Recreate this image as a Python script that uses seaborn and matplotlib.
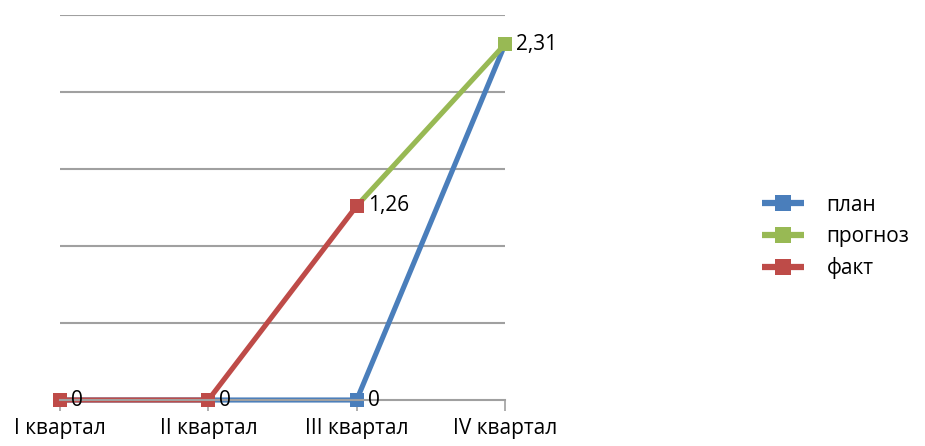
import numpy as np
import matplotlib
matplotlib.use('Agg')
import matplotlib.pyplot as plt
import seaborn as sns

# data
quarters = ['I квартал', 'II квартал', 'III квартал', 'IV квартал']
plan = [0, 0, 0, 2.31]
forecast = [np.nan, np.nan, 1.26, 2.31]
fact = [0, 0, 1.26, np.nan]

# data labels shown next to the points (series, index, text)
point_labels = [
    ('fact', 0, '0'),
    ('fact', 1, '0'),
    ('plan', 2, '0'),
    ('fact', 2, '1,26'),
    ('forecast', 3, '2,31'),
]

sns.set_style('white')
plt.rcParams['font.family'] = ['Open Sans', 'DejaVu Sans']
plt.rcParams['text.color'] = 'black'

fig = plt.figure(figsize=(9.25, 4.46), dpi=100)
ax = fig.add_axes([60 / 925, 1 - 400 / 446, 445 / 925, 385 / 446])

x = np.arange(len(quarters))
series = {
    'plan': (plan, 'план', '#4a7ebb'),
    'forecast': (forecast, 'прогноз', '#98b954'),
    'fact': (fact, 'факт', '#be4b48'),
}

for key, (vals, name, col) in series.items():
    sns.lineplot(x=x, y=vals, ax=ax, color=col, linewidth=3.7, marker='s',
                 markersize=9.5, markeredgewidth=0, label=name, clip_on=False,
                 solid_capstyle='butt')

for key, i, txt in point_labels:
    ax.annotate(txt, (x[i], series[key][0][i]), xytext=(8, 0),
                textcoords='offset points', ha='left', va='center',
                fontsize=15, color='black')

ax.set_xlim(0, 3)
ax.set_ylim(0, 2.5)
ax.set_yticks(np.arange(0.5, 2.51, 0.5))
ax.set_yticklabels([])
ax.tick_params(axis='y', length=0)
ax.yaxis.grid(True, color='#a0a0a0', linewidth=1.5)
ax.set_xticks(x)
ax.set_xticklabels(quarters, fontsize=15, color='black')
ax.tick_params(axis='x', direction='out', length=8, width=1.2,
               color='#a0a0a0', pad=5, bottom=True)
for s in ['left', 'right', 'top']:
    ax.spines[s].set_visible(False)
ax.spines['bottom'].set_color('#a0a0a0')
ax.spines['bottom'].set_linewidth(1.5)
ax.set_zorder(1)

leg = ax.legend(loc='center left', bbox_to_anchor=((762 - 60) / 445, (400 - 237) / 385),
                frameon=False, fontsize=15, handlelength=2.0, markerscale=1.2,
                labelspacing=0.5, handletextpad=1.1, borderpad=0, borderaxespad=0)
for t in leg.get_texts():
    t.set_color('black')
for h in leg.legend_handles:
    h.set_linewidth(4.5)
    h.set_solid_capstyle('butt')

fig.savefig('out.png', dpi=100)
